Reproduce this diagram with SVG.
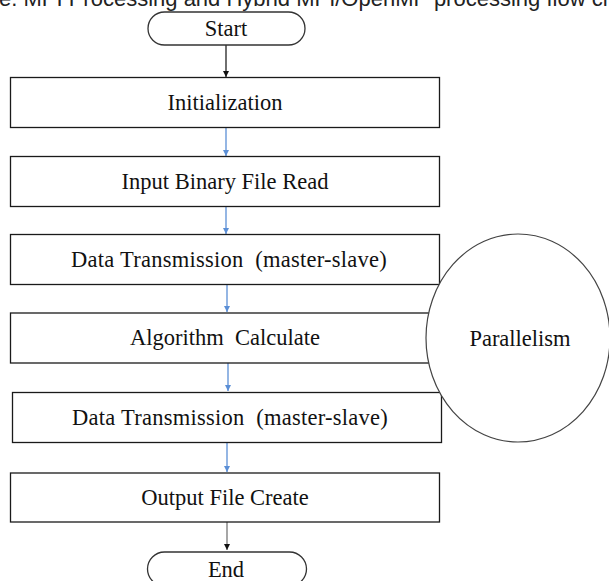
<svg xmlns="http://www.w3.org/2000/svg" width="609" height="581" viewBox="0 0 609 581">
  <style>
    .box { fill: #ffffff; stroke: #1a1a1a; stroke-width: 1.3; }
    .term { fill: #ffffff; stroke: #333333; stroke-width: 1.3; }
    .lbl { font-family: "Liberation Serif", "Times New Roman", serif; font-size: 22.5px; fill: #111111; text-anchor: middle; white-space: pre; }
    .wide { letter-spacing: 0.25px; }
    .cap { font-family: "Liberation Sans", Arial, sans-serif; font-size: 22px; fill: #222222; }
    .flow { stroke: #5b8fd6; stroke-width: 1.3; fill: none; }
    .flowdark { stroke: #222222; stroke-width: 1.3; fill: none; }
    .flowgray { stroke: #777777; stroke-width: 1.3; fill: none; }
  </style>
  <defs>
    <marker id="headBlue" viewBox="0 0 8 8" refX="8" refY="4" markerWidth="6" markerHeight="6" markerUnits="userSpaceOnUse" orient="auto">
      <path d="M0,0 L8,4 L0,8 Z" fill="#5b8fd6"/>
    </marker>
    <marker id="headDark" viewBox="0 0 8 8" refX="8" refY="4" markerWidth="6" markerHeight="6" markerUnits="userSpaceOnUse" orient="auto">
      <path d="M0,0 L8,4 L0,8 Z" fill="#111111"/>
    </marker>
  </defs>

  <!-- caption line, clipped at the top edge -->
  <text class="cap" x="-1" y="6" xml:space="preserve">e. MPI Processing and Hybrid MPI/OpenMP processing flow chart</text>

  <!-- connectors -->
  <g id="connectors">
    <line class="flowdark" x1="226" y1="45" x2="226" y2="77" marker-end="url(#headDark)"/>
    <line class="flow" x1="226" y1="127" x2="226" y2="156" marker-end="url(#headBlue)"/>
    <line class="flow" x1="226" y1="206" x2="226" y2="234" marker-end="url(#headBlue)"/>
    <line class="flow" x1="227" y1="284" x2="227" y2="312" marker-end="url(#headBlue)"/>
    <line class="flow" x1="228" y1="363" x2="228" y2="391" marker-end="url(#headBlue)"/>
    <line class="flow" x1="227" y1="442" x2="227" y2="472" marker-end="url(#headBlue)"/>
    <line class="flowgray" x1="227" y1="522" x2="227" y2="550" marker-end="url(#headDark)"/>
  </g>

  <g id="start">
    <rect class="term" x="148" y="12" width="157" height="33" rx="16.5"/>
    <text class="lbl" x="226" y="36">Start</text>
  </g>

  <g id="init">
    <rect class="box" x="10.5" y="77.5" width="429" height="50"/>
    <text class="lbl" x="225" y="110">Initialization</text>
  </g>

  <g id="read">
    <rect class="box" x="10.5" y="156.5" width="429" height="50"/>
    <text class="lbl" x="225" y="189">Input Binary File Read</text>
  </g>

  <g id="transmit1">
    <rect class="box" x="10.5" y="234.5" width="429" height="50"/>
    <text class="lbl wide" x="229" y="267">Data Transmission  (master-slave)</text>
  </g>

  <g id="calc">
    <rect class="box" x="10.5" y="313" width="429" height="50"/>
    <text class="lbl" x="225" y="345">Algorithm  Calculate</text>
  </g>

  <g id="transmit2">
    <rect class="box" x="12.5" y="392.5" width="429" height="50"/>
    <text class="lbl wide" x="230" y="425">Data Transmission  (master-slave)</text>
  </g>

  <g id="output">
    <rect class="box" x="10.5" y="473" width="429" height="49"/>
    <text class="lbl" x="225" y="505">Output File Create</text>
  </g>

  <g id="end">
    <rect class="term" x="147.5" y="552" width="159" height="34" rx="17"/>
    <text class="lbl" x="226" y="577">End</text>
  </g>

  <g id="parallelism">
    <ellipse fill="#ffffff" stroke="#444444" stroke-width="1.2" cx="518" cy="338" rx="92" ry="104"/>
    <text class="lbl" x="520" y="346">Parallelism</text>
  </g>
</svg>
